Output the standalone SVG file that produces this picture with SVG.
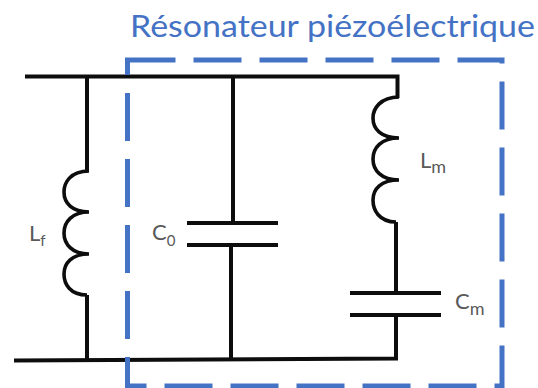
<svg xmlns="http://www.w3.org/2000/svg" width="538" height="388" viewBox="0 0 538 388">
<style>
.w{fill:none;stroke:#0d0d0d;stroke-width:4;stroke-linejoin:miter}
.c{fill:none;stroke:#0d0d0d;stroke-width:3.600;stroke-linecap:butt}
.p{fill:none;stroke:#0d0d0d;stroke-width:4}
.t{font-family:Lato,"Open Sans",sans-serif;fill:#595959;font-size:22px}
.s{font-size:15px}
.m{font-size:18px}
</style>
<rect width="538" height="388" fill="#fff"/>
<g id="connectors">
<path class="w" d="M25 76.500H397.500V98"/>
<path class="w" d="M14 360.500L396 358.500H396V315"/>
<path class="w" d="M87 76.500V171"/>
<path class="w" d="M87 295V360"/>
<path class="w" d="M233 76.500V222"/>
<path class="w" d="M231 245V359"/>
<path class="w" d="M396 222V292"/>
</g>
<g id="Lf">
<path class="c" d="M89 171C70 171 64 183 64 192C64 203 72 212 89 212C72 212 64 222 64 233C64 244 72 254 89 254C72 254 64 263 64 274C64 284 70 295 87 295"/>
<text class="t" x="29" y="241">L<tspan class="s" dy="5">f</tspan></text>
</g>
<g id="C0">
<path class="p" d="M187 223H278M187 245H278"/>
<text class="t" x="152" y="240">C<tspan class="s" dy="6">0</tspan></text>
</g>
<g id="Lm">
<path class="c" d="M399 97C380 97 373 109 373 118C373 129 381 138 399 138C381 138 373 148 373 159C373 170 381 180 399 180C381 180 373 189 373 200C373 210 379 222 396 222"/>
<text class="t" x="420" y="168">L<tspan class="m" dy="5">m</tspan></text>
</g>
<g id="Cm">
<path class="p" d="M350 293H441M350 315H441"/>
<text class="t" x="455" y="309">C<tspan class="m" dy="6">m</tspan></text>
</g>
<g id="resonateur">
<rect x="127.500" y="60" width="374.500" height="326" fill="none" stroke="#4472c4" stroke-width="5" stroke-dasharray="48 18"/>
<text x="130" y="37" font-family="Lato,'Open Sans',sans-serif" font-size="30" fill="#4472c4" textLength="405" lengthAdjust="spacingAndGlyphs">Résonateur piézoélectrique</text>
</g>
</svg>
